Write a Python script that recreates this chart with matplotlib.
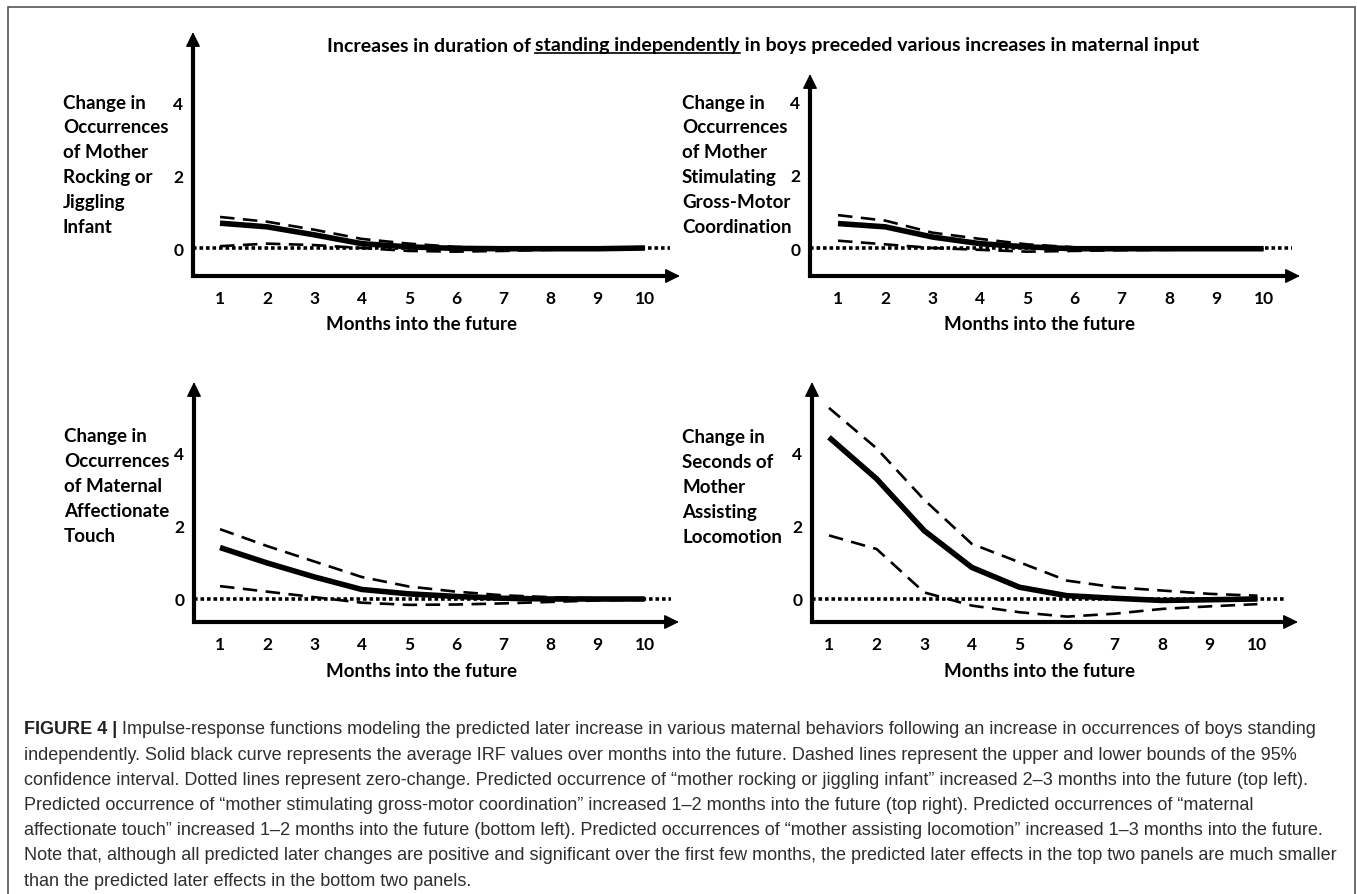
import matplotlib
matplotlib.use("Agg")
import matplotlib.pyplot as plt
from matplotlib import font_manager
from matplotlib.lines import Line2D
from matplotlib.patches import Rectangle

W, H = 1357, 895
FONT = "Lato"

_installed = {f.name for f in font_manager.fontManager.ttflist}
CAPTION_FONT = "Liberation Sans Narrow" if "Liberation Sans Narrow" in _installed else "Liberation Sans"

MONTHS = [1, 2, 3, 4, 5, 6, 7, 8, 9, 10]
Y_TICKS = [0, 2, 4]

# values
ROCKING_MEAN = [0.68, 0.58, 0.36, 0.12, 0.03, -0.01, -0.02, -0.02, -0.02, 0.0]
ROCKING_UPPER = [0.85, 0.72, 0.50, 0.25, 0.12, 0.03, 0.0, -0.01, -0.01, 0.0]
ROCKING_LOWER = [0.05, 0.12, 0.08, 0.0, -0.08, -0.10, -0.08, -0.05, -0.03, -0.02]

STIMULATING_MEAN = [0.67, 0.58, 0.30, 0.12, 0.03, -0.02, -0.02, -0.02, -0.02, -0.02]
STIMULATING_UPPER = [0.90, 0.75, 0.42, 0.25, 0.10, 0.02, 0.0, 0.0, -0.01, -0.01]
STIMULATING_LOWER = [0.20, 0.10, 0.0, -0.05, -0.10, -0.08, -0.06, -0.05, -0.04, -0.03]

TOUCH_MEAN = [1.40, 0.98, 0.60, 0.26, 0.14, 0.07, 0.02, 0.0, 0.0, 0.0]
TOUCH_UPPER = [1.90, 1.44, 1.02, 0.60, 0.34, 0.20, 0.10, 0.05, 0.02, 0.02]
TOUCH_LOWER = [0.35, 0.20, 0.05, -0.10, -0.16, -0.15, -0.12, -0.08, -0.04, -0.02]

LOCOMOTION_MEAN = [4.40, 3.27, 1.86, 0.86, 0.32, 0.09, 0.02, -0.04, -0.02, 0.0]
LOCOMOTION_UPPER = [5.20, 4.10, 2.70, 1.50, 1.00, 0.50, 0.32, 0.23, 0.14, 0.09]
LOCOMOTION_LOWER = [1.73, 1.36, 0.18, -0.18, -0.36, -0.48, -0.40, -0.27, -0.20, -0.14]

ROCKING_LABEL = ["Change in", "Occurrences", "of Mother", "Rocking or", "Jiggling", "Infant"]
STIMULATING_LABEL = ["Change in", "Occurrences", "of Mother", "Stimulating",
                     "Gross-Motor", "Coordination"]
TOUCH_LABEL = ["Change in", "Occurrences", "of Maternal", "Affectionate", "Touch"]
LOCOMOTION_LABEL = ["Change in", "Seconds of", "Mother", "Assisting", "Locomotion"]

X_LABEL = "Months into the future"
TITLE_PARTS = ["Increases in duration of ", "standing independently",
               " in boys preceded various increases in maternal input"]

CAPTION_HEAD = "FIGURE 4 |"
CAPTION_LINES = [
    " Impulse-response functions modeling the predicted later increase in various maternal "
    "behaviors following an increase in occurrences of boys standing",
    "independently. Solid black curve represents the average IRF values over months into the "
    "future. Dashed lines represent the upper and lower bounds of the 95%",
    "confidence interval. Dotted lines represent zero-change. Predicted occurrence of \u201cmother "
    "rocking or jiggling infant\u201d increased 2\u20133 months into the future (top left).",
    "Predicted occurrence of \u201cmother stimulating gross-motor coordination\u201d increased "
    "1\u20132 months into the future (top right). Predicted occurrences of \u201cmaternal",
    "affectionate touch\u201d increased 1\u20132 months into the future (bottom left). Predicted "
    "occurrences of \u201cmother assisting locomotion\u201d increased 1\u20133 months into the future.",
    "Note that, although all predicted later changes are positive and significant over the first "
    "few months, the predicted later effects in the top two panels are much smaller",
    "than the predicted later effects in the bottom two panels.",
]

# pixel layout: axes box (left, top, right, bottom), x/y limits, label anchors
PANELS = [
    dict(mean=ROCKING_MEAN, upper=ROCKING_UPPER, lower=ROCKING_LOWER, label=ROCKING_LABEL,
         box=(193, 33, 680, 277), xlim=(0.428, 10.746), ylim=(-0.767, 5.918),
         label_xy=(63, 103), xlabel_xy=(421, 324), zero_end=10.53),
    dict(mean=STIMULATING_MEAN, upper=STIMULATING_UPPER, lower=STIMULATING_LOWER,
         label=STIMULATING_LABEL,
         box=(810, 75, 1300, 277), xlim=(0.408, 10.77), ylim=(-0.767, 4.767),
         label_xy=(682, 103), xlabel_xy=(1040, 324), zero_end=10.6),
    dict(mean=TOUCH_MEAN, upper=TOUCH_UPPER, lower=TOUCH_LOWER, label=TOUCH_LABEL,
         box=(194, 383, 679, 623), xlim=(0.449, 10.725), ylim=(-0.626, 5.905),
         label_xy=(64, 437), xlabel_xy=(421, 672), zero_end=10.55),
    dict(mean=LOCOMOTION_MEAN, upper=LOCOMOTION_UPPER, lower=LOCOMOTION_LOWER,
         label=LOCOMOTION_LABEL,
         box=(812, 383, 1298, 623), xlim=(0.643, 10.853), ylim=(-0.626, 5.905),
         label_xy=(682, 438), xlabel_xy=(1040, 672), zero_end=10.6),
]

LINE_STEP = 24.9


def fx(px):
    return px / W


def fy(py):
    return 1 - py / H


def draw_panel(fig, spec):
    left, top, right, bottom = spec["box"]
    ax = fig.add_axes([fx(left), fy(bottom), (right - left) / W, (bottom - top) / H])
    x0, x1 = spec["xlim"]
    y0, y1 = spec["ylim"]
    ax.set_xlim(x0, x1)
    ax.set_ylim(y0, y1)
    for side in ax.spines.values():
        side.set_visible(False)
    ax.patch.set_alpha(0)

    ax.plot([x0, spec["zero_end"]], [0, 0], color="black", lw=2.6,
            linestyle=(0, (1.0, 0.8)), zorder=1)
    for bound in (spec["upper"], spec["lower"]):
        ax.plot(MONTHS, bound, color="black", lw=1.9, linestyle=(0, (5.5, 3.2)), zorder=2)
    ax.plot(MONTHS, spec["mean"], color="black", lw=4.0, solid_capstyle="butt", zorder=3)

    # axis lines with arrow heads
    dx = (x1 - x0) * 10 / (right - left)
    dy = (y1 - y0) * 10 / (bottom - top)
    ax.plot([x0, x0, x1 - dx], [y1 - dy, y0, y0], color="black", lw=3,
            solid_joinstyle="miter", clip_on=False, zorder=4)
    head = dict(arrowstyle="-|>,head_length=0.65,head_width=0.32", lw=1, color="black",
                shrinkA=0, shrinkB=0, mutation_scale=14)
    ax.annotate("", xy=(x0, y1), xytext=(x0, y1 - 2 * dy), arrowprops=head,
                annotation_clip=False)
    ax.annotate("", xy=(x1, y0), xytext=(x1 - 2 * dx, y0), arrowprops=head,
                annotation_clip=False)

    ax.set_xticks(MONTHS)
    ax.set_xticklabels([str(m) for m in MONTHS], fontfamily=FONT, fontweight="bold",
                       fontsize=12.5)
    ax.set_yticks(Y_TICKS)
    ax.set_yticklabels([str(v) for v in Y_TICKS], fontfamily=FONT, fontweight="bold",
                       fontsize=12.5)
    ax.tick_params(axis="x", length=0, pad=10)
    ax.tick_params(axis="y", length=0, pad=7)

    lx, ly = spec["label_xy"]
    for i, line in enumerate(spec["label"]):
        fig.text(fx(lx), fy(ly + i * LINE_STEP), line, ha="left", va="center",
                 fontfamily=FONT, fontweight="bold", fontsize=13.5)
    mx, my = spec["xlabel_xy"]
    fig.text(fx(mx), fy(my), X_LABEL, ha="center", va="center", fontfamily=FONT,
             fontweight="bold", fontsize=13.5)


def draw_title(fig, renderer):
    texts = [fig.text(0, fy(46), part, ha="left", va="center", fontfamily=FONT,
                      fontweight="bold", fontsize=14) for part in TITLE_PARTS]
    widths = [t.get_window_extent(renderer).width for t in texts]
    x = 763 - sum(widths) / 2
    for t, w in zip(texts, widths):
        t.set_x(fx(x))
        x += w
    ext = texts[1].get_window_extent(renderer)
    line_y = ext.y0 + 1
    fig.add_artist(Line2D([ext.x0 / W, ext.x1 / W], [line_y / H, line_y / H],
                          color="black", lw=1.2))


def draw_caption(fig, renderer):
    color = "#2e2e2e"
    probe = fig.text(0, 0, CAPTION_LINES[5], fontfamily=CAPTION_FONT, fontsize=12)
    width = probe.get_window_extent(renderer).width
    probe.remove()
    size = 12 * (1340 - 24) / width

    head = fig.text(fx(24), fy(730), CAPTION_HEAD, ha="left", va="center", color="#222222",
                    fontfamily=CAPTION_FONT, fontweight="bold", fontsize=size)
    head_w = head.get_window_extent(renderer).width
    for i, line in enumerate(CAPTION_LINES):
        x = 24 + head_w if i == 0 else 24
        fig.text(fx(x), fy(730 + i * 25.2), line, ha="left", va="center", color=color,
                 fontfamily=CAPTION_FONT, fontsize=size)


def main():
    fig = plt.figure(figsize=(W / 100, H / 100), dpi=100)
    fig.patch.set_facecolor("white")
    renderer = fig.canvas.get_renderer()

    fig.add_artist(Rectangle((fx(8), -0.05), (1355 - 8) / W, fy(8) + 0.05,
                             fill=False, edgecolor="#555555", lw=1.2))

    for spec in PANELS:
        draw_panel(fig, spec)
    draw_title(fig, renderer)
    draw_caption(fig, renderer)

    fig.savefig("out.png", dpi=100)


if __name__ == "__main__":
    main()
